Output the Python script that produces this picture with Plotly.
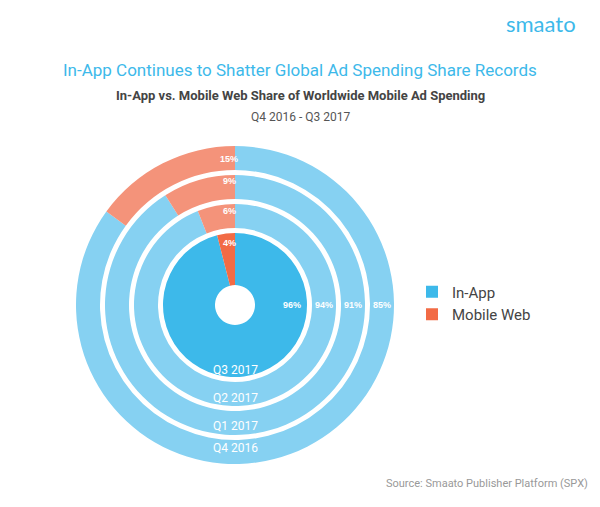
import plotly.graph_objects as go

quarters = ["Q4 2016", "Q1 2017", "Q2 2017", "Q3 2017"]
in_app = [85, 91, 94, 96]
mobile_web = [15, 9, 6, 4]
labels = ["In-App", "Mobile Web"]

W, H = 600, 507
OFF = 8
cx, cy = 235 - OFF, 305 - OFF
rings = [(159, 135), (130, 106), (101, 77), (72, 20)]
ring_colors = [["#86D1F2", "#F4937A"]] * 3 + [["#3DB9EA", "#F26B45"]]
# label offsets (px), tuned to reference
q_drop = [152, 130, 102, 74]
pct_rise = [153, 124, 94, 62]


def px(x):
    return (x - OFF) / W


def py(y):
    return (H - (y - OFF)) / H


fig = go.Figure()
for i, q in enumerate(quarters):
    ro, ri = rings[i]
    fig.add_trace(go.Pie(
        labels=labels, values=[in_app[i], mobile_web[i]],
        sort=False, direction="clockwise", rotation=0,
        hole=ri / ro, textinfo="none", hoverinfo="label+percent",
        marker=dict(colors=ring_colors[i], line=dict(color="white", width=0)),
        domain=dict(x=[(cx - ro) / W, (cx + ro) / W],
                    y=[(H - cy - ro) / H, (H - cy + ro) / H]),
        showlegend=(i == 3),
    ))
    rm = (ro + ri) / 2 if i < 3 else 57
    fig.add_annotation(x=(cx + rm) / W, y=(H - cy) / H, xref="paper", yref="paper",
                       text=f"<b>{in_app[i]}%</b>", showarrow=False,
                       font=dict(color="white", size=9, family="Arial"))
    fig.add_annotation(x=(cx - 6) / W, y=(H - cy + pct_rise[i]) / H, xref="paper", yref="paper",
                       text=f"<b>{mobile_web[i]}%</b>", showarrow=False,
                       font=dict(color="white", size=9, family="Arial"))
    fig.add_annotation(x=cx / W, y=(H - cy - q_drop[i]) / H, xref="paper", yref="paper",
                       text=q, showarrow=False,
                       font=dict(color="white", size=12, family="Roboto"))

fig.add_annotation(x=px(300), y=py(58), xref="paper", yref="paper", showarrow=False,
                   text="In-App Continues to Shatter Global Ad Spending Share Records",
                   font=dict(color="#3DB9EA", size=17, family="Roboto"))
fig.add_annotation(x=px(300), y=py(86), xref="paper", yref="paper", showarrow=False,
                   text="<b>In-App vs. Mobile Web Share of Worldwide Mobile Ad Spending</b>",
                   font=dict(color="#444", size=13, family="Roboto"))
fig.add_annotation(x=px(300), y=py(108), xref="paper", yref="paper", showarrow=False,
                   text="Q4 2016 - Q3 2017",
                   font=dict(color="#555", size=12, family="Roboto"))
fig.add_annotation(x=px(578), y=py(8), xref="paper", yref="paper", showarrow=False,
                   xanchor="right", text="smaato",
                   font=dict(color="#3DB9EA", size=22, family="Lato"))
fig.add_annotation(x=px(590), y=py(492), xref="paper", yref="paper", showarrow=False,
                   xanchor="right", text="Source: Smaato Publisher Platform (SPX)",
                   font=dict(color="#999", size=11, family="Roboto"))

fig.update_layout(
    width=W, height=H, margin=dict(l=0, r=0, t=0, b=0),
    paper_bgcolor="white",
    legend=dict(x=px(412), y=py(303), xanchor="left", yanchor="middle",
                font=dict(size=15, color="#444", family="Roboto"),
                itemsizing="constant", tracegroupgap=8),
)
fig.write_html("out.html")
